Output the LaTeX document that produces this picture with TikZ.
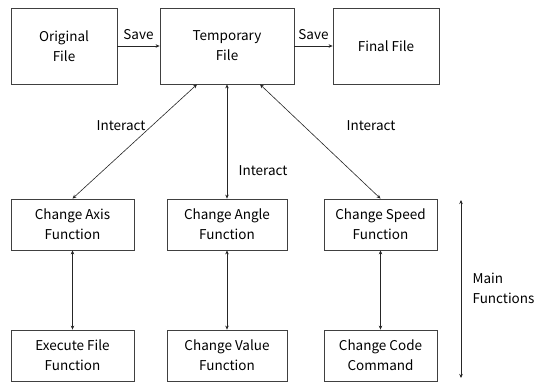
\documentclass[tikz,border=0pt]{standalone}
\usepackage{fontspec}
\setmainfont{Noto Sans CJK KR}
\usetikzlibrary{arrows.meta,positioning,calc}

\begin{document}
\begin{tikzpicture}[
				x=1pt,y=-1pt,
				font=\fontsize{13.5}{20}\selectfont,
				>={Stealth[length=4pt,width=3.5pt]},
				box/.style={draw=black!75,line width=0.8pt,align=center,inner sep=0pt},
				filebox/.style={box,minimum height=76pt},
				funcbox/.style={box,minimum height=51pt},
				link/.style={line width=0.6pt,draw=black!85}
			]
			\useasboundingbox (0,0) rectangle (540,382);
			% file row
			\node[filebox,minimum width=106pt] (orig) at (64,46) {Original\\File};
			\node[filebox,minimum width=134pt] (temp) at (227,46) {Temporary\\File};
			\node[filebox,minimum width=106pt] (final) at (386,46) {Final File};
			% function rows
			\node[funcbox,minimum width=123pt] (axis) at (72.5,224.5) {Change Axis\\Function};
			\node[funcbox,minimum width=120pt] (angle) at (227,224.5) {Change Angle\\Function};
			\node[funcbox,minimum width=113pt] (speed) at (380.5,224.5) {Change Speed\\Function};
			\node[funcbox,minimum width=123pt] (exec) at (72.5,355.5) {Execute File\\Function};
			\node[funcbox,minimum width=120pt] (value) at (227,355.5) {Change Value\\Function};
			\node[funcbox,minimum width=113pt] (code) at (380.5,355.5) {Change Code\\Command};

			\draw[link,->] (orig) -- node[above=3pt] {Save} (temp);
			\draw[link,->] (temp) -- node[above=3pt] {Save} (final);

			\draw[link,<->] ($(temp.south)+(-30,0)$) -- (axis.north);
			\draw[link,<->] (temp.south) -- (angle.north);
			\draw[link,<->] ($(temp.south)+(33,0)$) -- (speed.north);
			\node (int1) at (121,126) {Interact};
			\node (int2) at (263,171) {Interact};
			\node (int3) at (371,126) {Interact};

			\draw[link,<->] (axis) -- (exec);
			\draw[link,<->] (angle) -- (value);
			\draw[link,<->] (speed) -- (code);

			\coordinate (mtop) at (461,200);
			\coordinate (mbot) at (461,378);
			\draw[link,<->] (mtop) -- (mbot);
			\node[align=left,anchor=west] (mainfn) at (469,288) {Main\\Functions};
		\end{tikzpicture}
\end{document}
